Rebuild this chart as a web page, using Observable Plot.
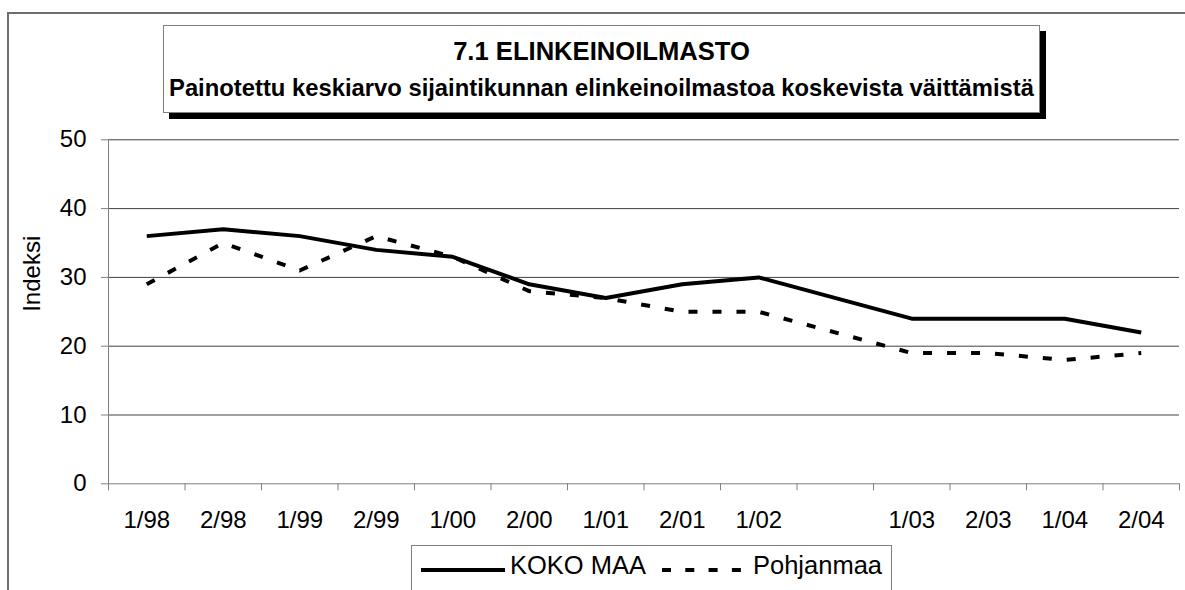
<!DOCTYPE html>
<html>
<head>
<meta charset="utf-8">
<script src="https://cdn.jsdelivr.net/npm/d3@7"></script>
<script src="https://cdn.jsdelivr.net/npm/@observablehq/plot@0.6"></script>
<style>
  html, body { margin: 0; padding: 0; background: #fff; }
  #wrap { position: relative; width: 1185px; height: 590px; overflow: hidden; font-family: "Liberation Sans", Arial, sans-serif; color: #000; }
  #chart { position: absolute; left: 0; top: 0; }
  .frame { position: absolute; left: 7px; top: 12px; width: 1300px; height: 700px; border-left: 2px solid #6e6e6e; border-top: 2px solid #6e6e6e; box-sizing: border-box; pointer-events: none; }
  .titlebox { position: absolute; left: 163px; top: 25px; width: 877px; height: 88px; box-sizing: border-box; border: 1px solid #808080; background: #fff; box-shadow: 6px 6px 0 #000; }
  .t { position: absolute; left: 163px; width: 877px; text-align: center; font-weight: bold; white-space: nowrap; line-height: 1; }
  .legend { position: absolute; left: 411px; top: 545px; width: 481px; height: 80px; box-sizing: border-box; border: 1px solid #808080; background: #fff; }
  .lt { position: absolute; font-size: 25.5px; line-height: 1; white-space: nowrap; }
</style>
</head>
<body>
<div id="wrap">
  <div id="chart"></div>
  <div class="frame"></div>
  <div class="titlebox"></div>
  <div class="t" id="title" style="top:39.3px;font-size:25.6px;"></div>
  <div class="t" id="subtitle" style="top:75.6px;font-size:23.8px;"></div>
  <div class="legend"></div>
  <svg style="position:absolute;left:0;top:0;overflow:visible" width="1185" height="590" id="legsvg"></svg>
  <div class="lt" id="leg1" style="left:510px;top:553.4px;"></div>
  <div class="lt" id="leg2" style="left:753px;top:553.4px;"></div>
</div>
<script>
const titleText = "7.1 ELINKEINOILMASTO";
const subtitleText = "Painotettu keskiarvo sijaintikunnan elinkeinoilmastoa koskevista väittämistä";
const yLabel = "Indeksi";
const categories = ["1/98","2/98","1/99","2/99","1/00","2/00","1/01","2/01","1/02","","1/03","2/03","1/04","2/04"];
const seriesNames = ["KOKO MAA", "Pohjanmaa"];
const kokoMaa  = [36, 37, 36, 34, 33, 29, 27, 29, 30, null, 24, 24, 24, 22];
const pohjanmaa = [29, 35, 31, 36, 33, 28, 27, 25, 25, null, 19, 19, 18, 19];
const yTicks = [0, 10, 20, 30, 40, 50];

document.getElementById("title").textContent = titleText;
document.getElementById("subtitle").textContent = subtitleText;
document.getElementById("leg1").textContent = seriesNames[0];
document.getElementById("leg2").textContent = seriesNames[1];

const toRows = (vals) => vals.map((v, i) => ({i, v})).filter(d => d.v != null);
const kokoRows = toRows(kokoMaa);
const pohRows = toRows(pohjanmaa);
const boundaries = d3.range(categories.length + 1).map(k => k - 0.5);

const plot = Plot.plot({
  width: 1185,
  height: 590,
  marginLeft: 108,
  marginRight: 6,
  marginTop: 139.3,
  marginBottom: 106.7,
  style: {background: "transparent", fontFamily: "Liberation Sans, Arial, sans-serif", color: "#000", overflow: "visible"},
  x: {type: "linear", domain: [-0.5, categories.length - 0.5]},
  y: {domain: [0, 50]},
  marks: [
    Plot.gridY({ticks: yTicks.filter(t => t > 0), stroke: "#404040", strokeOpacity: 1, strokeWidth: 1}),
    Plot.ruleX([-0.5], {stroke: "#808080", strokeWidth: 1}),
    Plot.ruleY([0], {stroke: "#808080", strokeWidth: 1}),
    Plot.axisY({ticks: yTicks, tickSize: 7, tickPadding: 15, fontSize: 24, label: null, stroke: "#808080"}),
    Plot.axisX({ticks: boundaries, tickSize: 7, tickFormat: () => "", label: null, stroke: "#808080"}),
    Plot.axisX({ticks: d3.range(categories.length), tickSize: 0, tickPadding: 27, tickFormat: i => categories[i], fontSize: 24, label: null}),
    Plot.text([yLabel], {frameAnchor: "left", dx: -76, rotate: -90, text: d => d, fontSize: 24, fill: "#000"}),
    Plot.line(kokoRows, {x: "i", y: "v", stroke: "#000", strokeWidth: 4, strokeLinejoin: "miter", strokeLinecap: "butt"}),
    Plot.line(pohRows, {x: "i", y: "v", stroke: "#000", strokeWidth: 4, strokeDasharray: "9,15", strokeLinejoin: "miter", strokeLinecap: "butt"})
  ]
});
document.getElementById("chart").appendChild(plot);

// legend samples
const leg = d3.select("#legsvg");
leg.append("line").attr("x1", 421).attr("x2", 505).attr("y1", 570).attr("y2", 570)
  .attr("stroke", "#000").attr("stroke-width", 4);
leg.append("line").attr("x1", 662).attr("x2", 744).attr("y1", 570).attr("y2", 570)
  .attr("stroke", "#000").attr("stroke-width", 4).attr("stroke-dasharray", "9,14.3");
</script>
</body>
</html>
